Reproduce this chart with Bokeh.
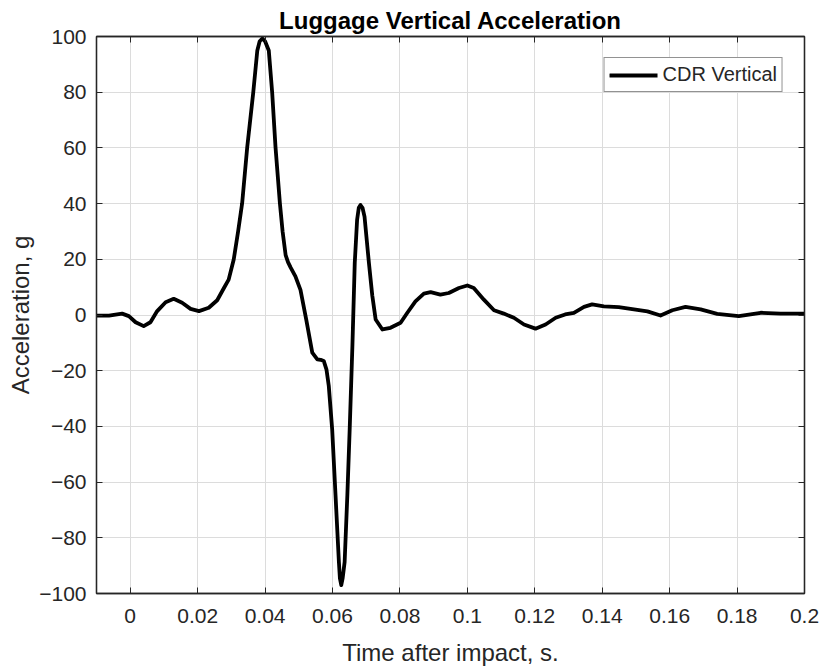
from bokeh.plotting import figure
from bokeh.models import LinearAxis, FixedTicker, Legend, LegendItem, Range1d
from bokeh.embed import file_html
from bokeh.resources import INLINE

# ---- data ----
time_s = [-0.0100, -0.0063, -0.0024, -0.0004, 0.0016, 0.0040, 0.0060, 0.0080, 0.0105,
          0.0129, 0.0154, 0.0179, 0.0204, 0.0233, 0.0258, 0.0278, 0.0292, 0.0307,
          0.0320, 0.0332, 0.0347, 0.0365, 0.0377, 0.0384, 0.0392, 0.0400, 0.0411,
          0.0421, 0.0431, 0.0444, 0.0452, 0.0461, 0.0468, 0.0476, 0.0490, 0.0505, 0.0522,
          0.0540, 0.0555, 0.0565, 0.0574, 0.0582, 0.0589, 0.0599, 0.0609, 0.0619,
          0.0622, 0.0626, 0.0630, 0.0636, 0.0644, 0.0651, 0.0659, 0.0666, 0.0673,
          0.0678, 0.0683, 0.0689, 0.0695, 0.0708, 0.0718, 0.0728, 0.0748, 0.0772,
          0.0802, 0.0822, 0.0846, 0.0871, 0.0891, 0.0920, 0.0945, 0.0975, 0.1000,
          0.1019, 0.1049, 0.1079, 0.1108, 0.1138, 0.1168, 0.1202, 0.1232, 0.1262,
          0.1290, 0.1316, 0.1346, 0.1370, 0.1405, 0.1449, 0.1484, 0.1534, 0.1573,
          0.1608, 0.1647, 0.1692, 0.1741, 0.1805, 0.1870, 0.1929, 0.1993, 0.2000]
accel_g = [-0.2, -0.2, 0.5, -0.4, -2.6, -4.0, -2.6, 1.4, 4.6,
           5.8, 4.4, 2.2, 1.4, 2.6, 5.3, 9.7, 12.7, 19.9,
           30.0, 40.1, 60.2, 80.0, 95.0, 98.3, 99.3, 98.3, 95.0,
           80.0, 60.2, 40.1, 30.0, 21.5, 19.0, 17.0, 13.9, 9.0, -1.6,
           -13.5, -15.9, -16.1, -16.5, -19.5, -25.5, -41.0, -64.8, -88.7,
           -94.6, -97.0, -94.6, -88.7, -64.8, -41.0, -11.2, 18.7, 34.2,
           38.5, 39.5, 38.5, 35.3, 18.7, 7.0, -1.6, -5.2, -4.6,
           -2.8, 0.8, 4.9, 7.7, 8.2, 7.3, 7.9, 9.7, 10.6,
           9.7, 5.5, 1.7, 0.5, -1.0, -3.4, -4.9, -3.4, -1.0,
           0.2, 0.8, 2.9, 3.8, 3.1, 2.8, 2.2, 1.3, -0.2,
           1.7, 2.9, 2.0, 0.4, -0.4, 0.8, 0.5, 0.5, 0.5]

x_ticks = [0, 0.02, 0.04, 0.06, 0.08, 0.1, 0.12, 0.14, 0.16, 0.18, 0.2]
x_tick_labels = ["0", "0.02", "0.04", "0.06", "0.08", "0.1", "0.12", "0.14", "0.16", "0.18", "0.2"]
y_ticks = [-100, -80, -60, -40, -20, 0, 20, 40, 60, 80, 100]

title_text = "Luggage Vertical Acceleration"
x_label = "Time after impact, s."
y_label = "Acceleration, g"
series_name = "CDR Vertical"

FONT = "Liberation Sans"
AX = "#262626"

p = figure(width=820, height=668, output_backend="svg", toolbar_location=None,
           x_range=Range1d(-0.01, 0.2), y_range=Range1d(-100, 100),
           min_border_left=96, min_border_right=16, min_border_top=36, min_border_bottom=73,
           x_axis_label=x_label, y_axis_label=y_label, title=title_text)

p.title.align = "center"
p.title.text_font = FONT
p.title.text_font_size = "24px"
p.title.text_font_style = "bold"
p.title.text_color = "black"
p.title.standoff = 6

p.outline_line_color = AX
p.outline_line_width = 1.3

for ax in (p.xaxis[0], p.yaxis[0]):
    ax.axis_line_color = AX
    ax.axis_line_width = 1.3
    ax.major_tick_line_color = AX
    ax.major_tick_in = 6
    ax.major_tick_out = 0
    ax.minor_tick_line_color = None
    ax.major_label_text_font = FONT
    ax.major_label_text_font_size = "21px"
    ax.major_label_text_color = AX
    ax.axis_label_text_font = FONT
    ax.axis_label_text_font_size = "24px"
    ax.axis_label_text_font_style = "normal"
    ax.axis_label_text_color = AX

p.xaxis[0].ticker = FixedTicker(ticks=x_ticks)
p.xaxis[0].major_label_overrides = {t: l for t, l in zip(x_ticks, x_tick_labels)}
p.xaxis[0].major_label_standoff = 15
p.xaxis[0].axis_label_standoff = 13
p.yaxis[0].ticker = FixedTicker(ticks=y_ticks)
p.yaxis[0].major_label_standoff = 10
p.yaxis[0].axis_label_standoff = 2

# box axes on top and right with inward ticks and no labels
top = LinearAxis(ticker=FixedTicker(ticks=x_ticks))
right = LinearAxis(ticker=FixedTicker(ticks=y_ticks))
for ax in (top, right):
    ax.axis_line_color = AX
    ax.axis_line_width = 1.3
    ax.major_tick_line_color = AX
    ax.major_tick_in = 6
    ax.major_tick_out = 0
    ax.minor_tick_line_color = None
    ax.major_label_text_font_size = "0px"
    ax.major_label_text_color = None
    ax.major_label_standoff = 0
p.add_layout(top, "above")
p.add_layout(right, "right")

p.xgrid.ticker = FixedTicker(ticks=x_ticks)
p.ygrid.ticker = FixedTicker(ticks=y_ticks)
for g in (p.xgrid[0], p.ygrid[0]):
    g.grid_line_color = "#dcdcdc"
    g.grid_line_width = 1

r = p.line(time_s, accel_g, line_color="black", line_width=3.8, line_join="round", line_cap="round")

legend = Legend(items=[LegendItem(label=series_name, renderers=[r])], location="top_right")
legend.margin = 21
legend.padding = 5
legend.spacing = 0
legend.glyph_width = 48
legend.glyph_height = 20
legend.label_height = 20
legend.label_standoff = 5
legend.label_text_font = FONT
legend.label_text_font_size = "20px"
legend.label_text_color = AX
legend.border_line_color = AX
legend.border_line_width = 1.3
legend.background_fill_color = "white"
legend.background_fill_alpha = 1
p.add_layout(legend)

open("out.html", "w").write(file_html(p, INLINE))
